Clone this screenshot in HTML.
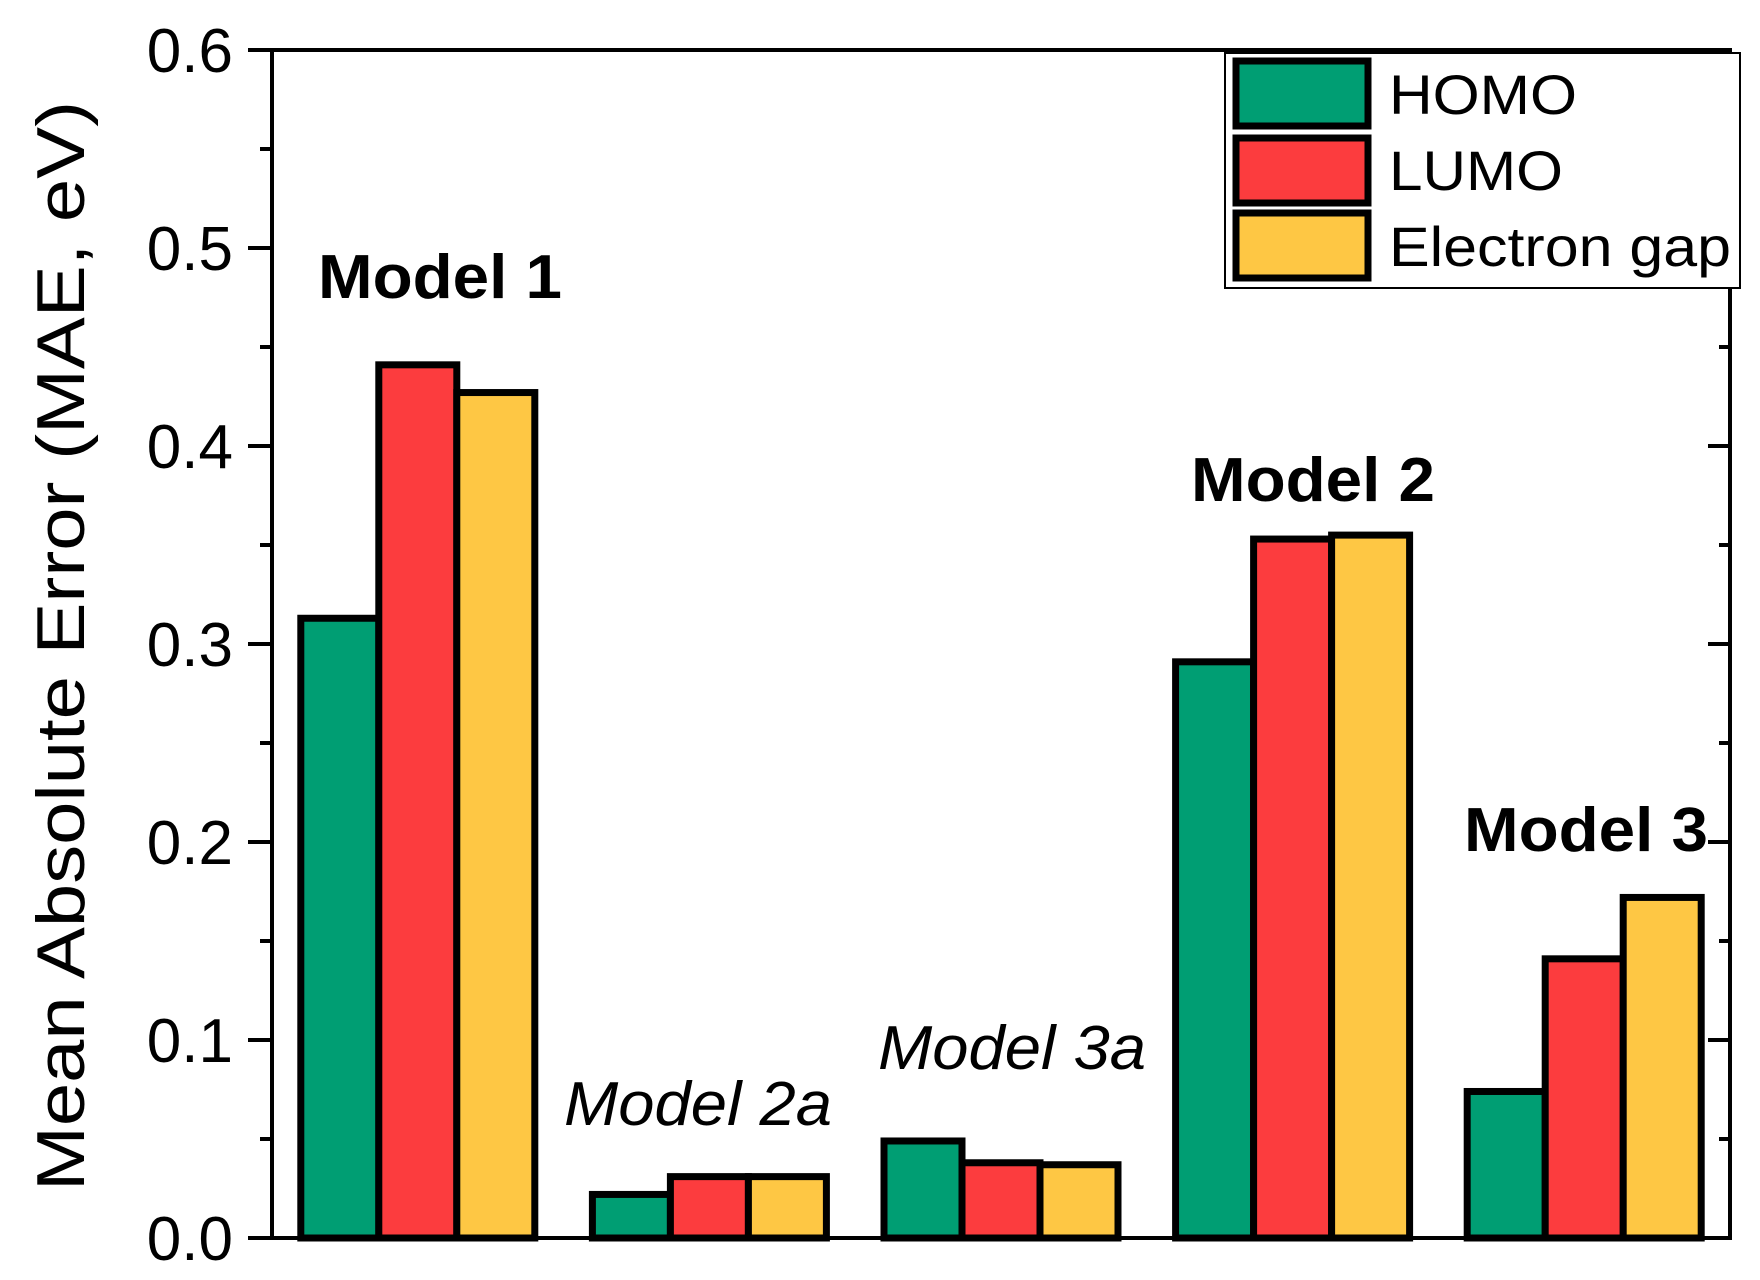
<!DOCTYPE html>
<html><head><meta charset="utf-8"><style>
html,body{margin:0;padding:0;background:#fff;}
svg{display:block;font-family:"Liberation Sans",Arial,sans-serif;}
</style></head><body>
<svg id="chart" width="1760" height="1280" viewBox="0 0 1760 1280">
<g id="bars"></g>
<g id="axes"></g>
<text transform="translate(84,646) rotate(-90)" text-anchor="middle" font-size="68" textLength="1090" lengthAdjust="spacingAndGlyphs">Mean Absolute Error (MAE, eV)</text>
<g id="labels"></g>
<g>
<rect x="1225" y="53" width="515" height="235" fill="#fff" stroke="#000" stroke-width="2"/>
<rect x="1236" y="61" width="132" height="65" fill="#009e73" stroke="#000" stroke-width="7"/>
<text x="1389" y="114" font-size="56" textLength="188" lengthAdjust="spacingAndGlyphs">HOMO</text>
<rect x="1236" y="138" width="132" height="65" fill="#fc3c3e" stroke="#000" stroke-width="7"/>
<text x="1389" y="190" font-size="56" textLength="174" lengthAdjust="spacingAndGlyphs">LUMO</text>
<rect x="1236" y="213" width="132" height="65" fill="#fec744" stroke="#000" stroke-width="7"/>
<text x="1389" y="266" font-size="56" textLength="342" lengthAdjust="spacingAndGlyphs">Electron gap</text>
</g>
</svg>
<script>
const categories = ["Model 1","Model 2a","Model 3a","Model 2","Model 3"];
const homo = [0.313,0.022,0.049,0.291,0.074];
const lumo = [0.441,0.031,0.038,0.353,0.141];
const gap = [0.427,0.031,0.037,0.355,0.172];
const yTicks = ["0.0","0.1","0.2","0.3","0.4","0.5","0.6"];
const labelBold = [true,false,false,true,true];

const NS="http://www.w3.org/2000/svg";
const X0=272,X1=1730,Y0=1238,Y1=50,YMAX=0.6;
const y=v=>Y0-(v/YMAX)*(Y0-Y1);
const slot=(X1-X0)/categories.length;
const cx=i=>X0+slot*(i+0.5);
const BW=78;
function mk(t,a,p){const e=document.createElementNS(NS,t);for(const k in a)e.setAttribute(k,a[k]);p.appendChild(e);return e;}
const bars=document.getElementById('bars');
const series=[[homo,'#009e73','homo'],[lumo,'#fc3c3e','lumo'],[gap,'#fec744','gap']];
categories.forEach((c,i)=>{
  series.forEach((s,j)=>{
    const v=s[0][i];
    const x=cx(i)+(j-1.5)*BW;
    const r=mk('rect',{x:x,y:y(v),width:BW,height:Y0-y(v),fill:s[1],stroke:'#000','stroke-width':7},bars);
    
    
  });
});
const ax=document.getElementById('axes');
mk('rect',{x:X0,y:Y1,width:X1-X0,height:Y0-Y1,fill:'none',stroke:'#000','stroke-width':4},ax);
for(let k=0;k<=12;k++){
  const v=k*0.05, yy=y(v), major=k%2==0;
  mk('line',{x1:X0-(major?24:12),x2:X0,y1:yy,y2:yy,stroke:'#000','stroke-width':4},ax);
  mk('line',{x1:X1,x2:X1-(major?22:11),y1:yy,y2:yy,stroke:'#000','stroke-width':4},ax);
}
yTicks.forEach((t,k)=>{
  const e=mk('text',{x:233,y:y(parseFloat(t))+22,'text-anchor':'end','font-size':62},ax);
  e.textContent=t;
  
  
});
const lab=document.getElementById('labels');
const labelX=[440,698,1012,1313,1586];
const labelY=[298,1125,1069,501,851];
categories.forEach((c,i)=>{
  const e=mk('text',{x:labelX[i],y:labelY[i],'text-anchor':'middle','font-size':62,
    'font-weight':labelBold[i]?'bold':'normal','font-style':labelBold[i]?'normal':'italic',
    textLength:labelBold[i]?244:268,lengthAdjust:'spacingAndGlyphs'},lab);
  e.textContent=c;
  
  
});
</script>
</body></html>
